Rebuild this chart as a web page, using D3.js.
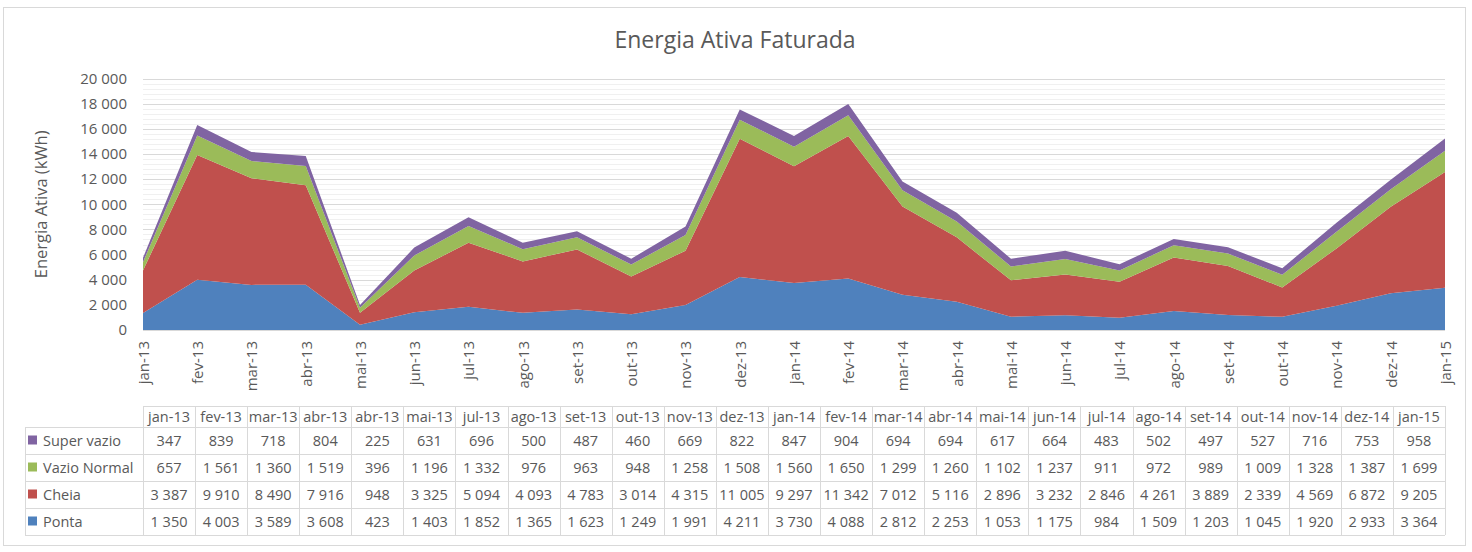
<!DOCTYPE html>
<html>
<head>
<meta charset="utf-8">
<script src="https://cdn.jsdelivr.net/npm/d3@7"></script>
<style>
  html, body { margin: 0; padding: 0; background: #ffffff; }
  svg { display: block; font-family: "Open Sans", Lato, sans-serif; }
</style>
</head>
<body>
<svg id="chart" width="1472" height="552"></svg>
<script>
// ---------- DATA ----------
const title = "Energia Ativa Faturada";
const yAxisTitle = "Energia Ativa (kWh)";
const categories = ["jan-13","fev-13","mar-13","abr-13","mai-13","jun-13","jul-13","ago-13","set-13","out-13","nov-13","dez-13",
                    "jan-14","fev-14","mar-14","abr-14","mai-14","jun-14","jul-14","ago-14","set-14","out-14","nov-14","dez-14","jan-15"];
const tableHeaders = ["jan-13","fev-13","mar-13","abr-13","abr-13","mai-13","jul-13","ago-13","set-13","out-13","nov-13","dez-13",
                      "jan-14","fev-14","mar-14","abr-14","mai-14","jun-14","jul-14","ago-14","set-14","out-14","nov-14","dez-14","jan-15"];
const seriesNames = ["Ponta","Cheia","Vazio Normal","Super vazio"];
const ponta       = [1350,4003,3589,3608,423,1403,1852,1365,1623,1249,1991,4211,3730,4088,2812,2253,1053,1175,984,1509,1203,1045,1920,2933,3364];
const cheia       = [3387,9910,8490,7916,948,3325,5094,4093,4783,3014,4315,11005,9297,11342,7012,5116,2896,3232,2846,4261,3889,2339,4569,6872,9205];
const vazioNormal = [657,1561,1360,1519,396,1196,1332,976,963,948,1258,1508,1560,1650,1299,1260,1102,1237,911,972,989,1009,1328,1387,1699];
const superVazio  = [347,839,718,804,225,631,696,500,487,460,669,822,847,904,694,694,617,664,483,502,497,527,716,753,958];
const yTicks = [0,2000,4000,6000,8000,10000,12000,14000,16000,18000,20000];
const yMinorStep = 400;

const seriesValues = { "Ponta": ponta, "Cheia": cheia, "Vazio Normal": vazioNormal, "Super vazio": superVazio };
const colors = { "Ponta": "#4F81BD", "Cheia": "#C0504D", "Vazio Normal": "#9BBB59", "Super vazio": "#8064A2" };

// ---------- SETUP ----------
const locale = d3.formatLocale({ decimal: ",", thousands: "\u00a0", grouping: [3], currency: ["", "€"] });
const fmt = locale.format(",d");
const textColor = "#595959";
const fontFam = "'Open Sans', Lato, sans-serif";

const svg = d3.select("#chart");

// outer border
svg.append("rect").attr("x", 3.5).attr("y", 7.5).attr("width", 1462).attr("height", 538)
  .attr("fill", "#fff").attr("stroke", "#d9d9d9").attr("stroke-width", 1);

const plotLeft = 143, plotRight = 1445, plotTop = 78.6, plotBottom = 330;

const x = d3.scalePoint().domain(categories).range([plotLeft, plotRight]);
const y = d3.scaleLinear().domain([0, 20000]).range([plotBottom, plotTop]);

// minor gridlines
svg.append("g").selectAll("line")
  .data(d3.range(0, 20000 + 1, yMinorStep).filter(v => v % 2000 !== 0))
  .join("line")
  .attr("x1", plotLeft).attr("x2", plotRight)
  .attr("y1", d => Math.round(y(d)) + 0.5).attr("y2", d => Math.round(y(d)) + 0.5)
  .attr("stroke", "#f0f0f0").attr("stroke-width", 1);

// major gridlines
svg.append("g").selectAll("line")
  .data(yTicks.filter(v => v > 0))
  .join("line")
  .attr("x1", plotLeft).attr("x2", plotRight)
  .attr("y1", d => Math.round(y(d)) + 0.5).attr("y2", d => Math.round(y(d)) + 0.5)
  .attr("stroke", "#d9d9d9").attr("stroke-width", 1);

// stacked data
const rows = categories.map((c, i) => {
  const r = { cat: c };
  seriesNames.forEach(s => r[s] = seriesValues[s][i]);
  return r;
});
const stacked = d3.stack().keys(seriesNames)(rows);

const area = d3.area()
  .x(d => x(d.data.cat))
  .y0(d => y(d[0]))
  .y1(d => y(d[1]));

svg.append("g").selectAll("path")
  .data(stacked)
  .join("path")
  .attr("d", area)
  .attr("fill", d => colors[d.key]);

// x axis baseline
svg.append("line").attr("x1", plotLeft).attr("x2", plotRight)
  .attr("y1", plotBottom + 0.5).attr("y2", plotBottom + 0.5)
  .attr("stroke", "#d9d9d9");

// y axis
const yAxis = svg.append("g")
  .attr("transform", `translate(${plotLeft},0)`)
  .call(d3.axisLeft(y).tickValues(yTicks).tickSize(0).tickPadding(16).tickFormat(fmt));
yAxis.select(".domain").remove();
yAxis.selectAll("text").attr("fill", textColor).style("font-size", "15px")
  .style("font-family", fontFam);

// x axis labels
const xAxis = svg.append("g")
  .attr("transform", `translate(0,${plotBottom})`)
  .call(d3.axisBottom(x).tickSize(0).tickPadding(0));
xAxis.select(".domain").remove();
xAxis.selectAll("text")
  .attr("fill", textColor)
  .style("font-size", "15px")
  .style("font-family", fontFam)
  .attr("text-anchor", "end")
  .attr("transform", "translate(0,11) rotate(-90)")
  .attr("x", 0).attr("y", 0).attr("dy", "0.35em");

// title
svg.append("text").attr("x", 735).attr("y", 48).attr("text-anchor", "middle")
  .attr("fill", textColor).style("font-size", "23px").text(title);

// y axis title
svg.append("text")
  .attr("transform", `translate(47,${(plotTop + plotBottom) / 2}) rotate(-90)`)
  .attr("text-anchor", "middle").attr("fill", textColor).style("font-size", "16.5px")
  .text(yAxisTitle);

// ---------- DATA TABLE ----------
const tableLeft = 25, tableRight = plotRight;
const colX = d3.scaleBand().domain(d3.range(tableHeaders.length)).range([plotLeft, tableRight]);
const headerTop = 406, headerBottom = 427, rowH = 27;
const tableOrder = ["Super vazio", "Vazio Normal", "Cheia", "Ponta"];
const tableBottom = headerBottom + rowH * tableOrder.length;
const lineColor = "#d9d9d9";
const tbl = svg.append("g");
const tblFont = "14.5px";

// horizontal lines
tbl.append("line").attr("x1", plotLeft).attr("x2", tableRight).attr("y1", headerTop + 0.5).attr("y2", headerTop + 0.5).attr("stroke", lineColor);
tbl.selectAll("line.h").data(d3.range(tableOrder.length + 1)).join("line").attr("class", "h")
  .attr("x1", tableLeft).attr("x2", tableRight)
  .attr("y1", i => headerBottom + i * rowH + 0.5).attr("y2", i => headerBottom + i * rowH + 0.5)
  .attr("stroke", lineColor);
// vertical lines
tbl.append("line").attr("x1", tableLeft + 0.5).attr("x2", tableLeft + 0.5).attr("y1", headerBottom).attr("y2", tableBottom).attr("stroke", lineColor);
tbl.selectAll("line.v").data(d3.range(tableHeaders.length + 1)).join("line").attr("class", "v")
  .attr("x1", i => Math.round(plotLeft + i * colX.step()) + 0.5)
  .attr("x2", i => Math.round(plotLeft + i * colX.step()) + 0.5)
  .attr("y1", headerTop).attr("y2", tableBottom).attr("stroke", lineColor);

// header text
tbl.selectAll("text.hd").data(tableHeaders).join("text").attr("class", "hd")
  .attr("x", (d, i) => colX(i) + colX.bandwidth() / 2)
  .attr("y", (headerTop + headerBottom) / 2).attr("dy", "0.36em")
  .attr("text-anchor", "middle").attr("fill", textColor).style("font-size", tblFont).text(d => d);

// rows
tableOrder.forEach((s, r) => {
  const cy = headerBottom + r * rowH + rowH / 2;
  tbl.append("rect").attr("x", 28).attr("y", cy - 5).attr("width", 9).attr("height", 9).attr("fill", colors[s]);
  tbl.append("text").attr("x", 43).attr("y", cy).attr("dy", "0.36em")
    .attr("fill", textColor).style("font-size", tblFont).text(s);
  tbl.selectAll(null).data(seriesValues[s]).join("text")
    .attr("x", (d, i) => colX(i) + colX.bandwidth() / 2)
    .attr("y", cy).attr("dy", "0.36em")
    .attr("text-anchor", "middle").attr("fill", textColor).style("font-size", tblFont)
    .text(d => fmt(d));
});
</script>
</body>
</html>
